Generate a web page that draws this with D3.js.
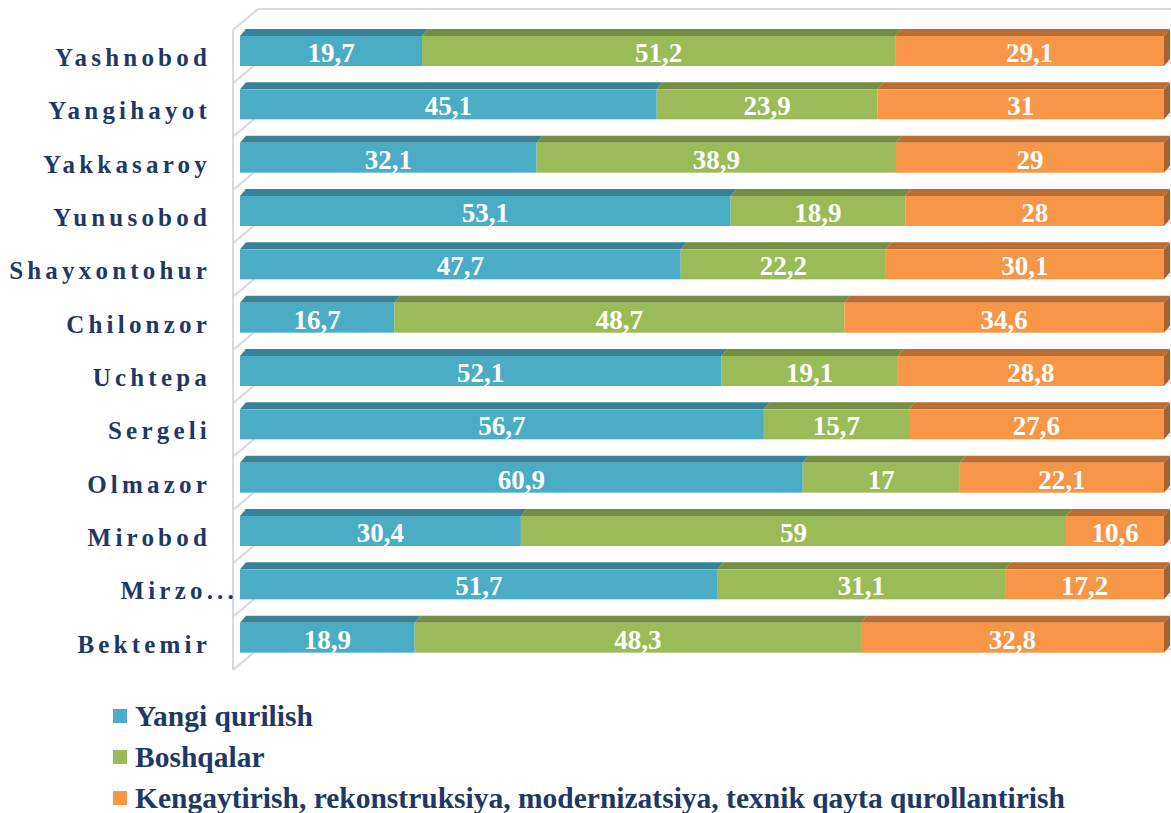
<!DOCTYPE html>
<html>
<head>
<meta charset="utf-8">
<script src="https://cdn.jsdelivr.net/npm/d3@7"></script>
<style>
  body { margin: 0; background: #fff; }
</style>
</head>
<body>
<div id="chart"></div>
<script>
// categories, top to bottom
const districts = ['Yashnobod', 'Yangihayot', 'Yakkasaroy', 'Yunusobod', 'Shayxontohur', 'Chilonzor',
  'Uchtepa', 'Sergeli', 'Olmazor', 'Mirobod', 'Mirzo...', 'Bektemir'];
const seriesNames = ['Yangi qurilish', 'Boshqalar',
  'Kengaytirish, rekonstruksiya, modernizatsiya, texnik qayta qurollantirish'];
const yangiQurilish = [19.7, 45.1, 32.1, 53.1, 47.7, 16.7, 52.1, 56.7, 60.9, 30.4, 51.7, 18.9];
const boshqalar     = [51.2, 23.9, 38.9, 18.9, 22.2, 48.7, 19.1, 15.7, 17, 59, 31.1, 48.3];
const kengaytirish  = [29.1, 31, 29, 28, 30.1, 34.6, 28.8, 27.6, 22.1, 10.6, 17.2, 32.8];

const front = ['#4bacc6', '#9bbb59', '#f79646'];
const top_ = ['#3a8296', '#758d45', '#b96e33'];
const sideCol = '#a8632c';
const FONT = "'Liberation Serif', 'Times New Roman', serif";

const width = 1171, height = 813;
const svg = d3.select('#chart').append('svg')
  .attr('width', width).attr('height', height)
  .attr('font-family', FONT)
  .attr('font-weight', 'bold');

// scales
const x = d3.scaleLinear().domain([0, 100]).range([240, 1164]);
const y = d3.scaleBand().domain(districts).range([30, 670]);
const dx = 6, dy = -7;          // bar depth
const wx = 25, wy = -21;        // wall depth
const barH = 30, barOff = 6;

// wall / gridlines
const grid = svg.append('g').attr('stroke', '#d9d9d9').attr('stroke-width', 2).attr('fill', 'none');
grid.append('line').attr('x1', 233).attr('x2', 233).attr('y1', y.range()[0]).attr('y2', y.range()[1]);
const bounds = districts.map(d => y(d)).concat([y.range()[1]]);
grid.selectAll('.back').data(bounds).enter().append('line')
  .attr('x1', 233 + wx).attr('x2', width)
  .attr('y1', d => d + wy).attr('y2', d => d + wy);
grid.selectAll('.diag').data(bounds).enter().append('line')
  .attr('x1', 233).attr('y1', d => d)
  .attr('x2', 233 + wx).attr('y2', d => d + wy);

// stack
const rows = districts.map((d, i) => ({ name: d, vals: [yangiQurilish[i], boshqalar[i], kengaytirish[i]] }));
const segs = [];
rows.forEach(r => {
  let acc = 0;
  r.vals.forEach((v, k) => {
    segs.push({ name: r.name, k: k, v: v, x0: acc, x1: acc + v, last: k === 2 });
    acc += v;
  });
});

const g = svg.append('g');
const bar = g.selectAll('g.seg').data(segs).enter().append('g').attr('class', 'seg');

bar.append('path')
  .attr('d', d => {
    const a = x(d.x0), b = x(d.x1), t = y(d.name) + barOff;
    return `M${a},${t}L${b},${t}L${b + dx},${t + dy}L${a + dx},${t + dy}Z`;
  })
  .attr('fill', d => top_[d.k]);

bar.filter(d => d.last).append('path')
  .attr('d', d => {
    const b = x(d.x1), t = y(d.name) + barOff;
    return `M${b},${t}L${b + dx},${t + dy}L${b + dx},${t + barH + dy}L${b},${t + barH}Z`;
  })
  .attr('fill', sideCol);

bar.append('rect')
  .attr('x', d => x(d.x0))
  .attr('y', d => y(d.name) + barOff)
  .attr('width', d => x(d.x1) - x(d.x0))
  .attr('height', barH)
  .attr('fill', d => front[d.k]);

bar.append('text')
  .attr('x', d => (x(d.x0) + x(d.x1)) / 2)
  .attr('y', d => y(d.name) + barOff + barH / 2 + 11)
  .attr('text-anchor', 'middle')
  .attr('fill', '#fff')
  .attr('font-size', 27)
  .text(d => String(d.v).replace('.', ','));

// category labels
svg.append('g').selectAll('text').data(districts).enter().append('text')
  .attr('x', d => d === 'Mirzo...' ? 238 : 211)
  .attr('y', d => y(d) + barOff + barH / 2 + 15)
  .attr('text-anchor', 'end')
  .attr('fill', '#1f3864')
  .attr('font-size', 25)
  .attr('letter-spacing', 4.2)
  .text(d => d);

// legend
const leg = svg.append('g').selectAll('g').data(seriesNames).enter().append('g')
  .attr('transform', (d, i) => `translate(113, ${726 + i * 41})`);
leg.append('rect').attr('x', 0).attr('y', -17).attr('width', 14).attr('height', 14)
  .attr('fill', (d, i) => front[i]);
leg.append('text').attr('x', 22).attr('y', 0)
  .attr('fill', '#1f3864').attr('font-size', 29.5)
  .text(d => d);
</script>
</body>
</html>
